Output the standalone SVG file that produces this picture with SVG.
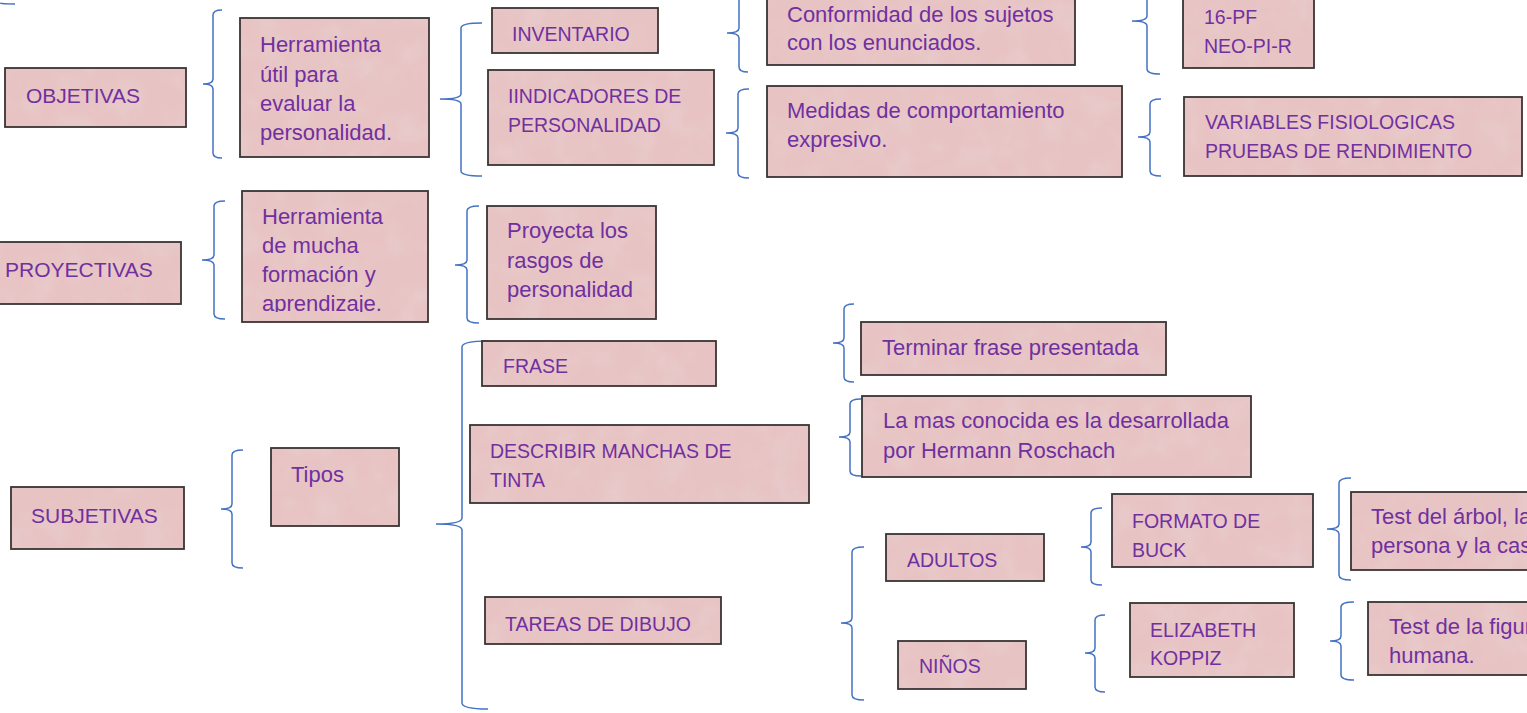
<svg xmlns="http://www.w3.org/2000/svg" width="1527" height="713" viewBox="0 0 1527 713">
<style>
.box{fill:#E8C3C3;filter:url(#mottle)}
.frame{fill:none;stroke:#3a3434;stroke-width:1.8}
.t{font-family:"Liberation Sans",Arial,sans-serif;font-size:22px;fill:#7030A0}
.c{font-size:19.5px}
.h{font-size:21px}
.br{fill:none;stroke:#4472C4;stroke-width:1.5}
</style>
<defs>
<filter id="mottle" x="0" y="0" width="100%" height="100%">
<feTurbulence type="fractalNoise" baseFrequency="0.035" numOctaves="3" seed="4" result="noise"/>
<feColorMatrix in="noise" type="matrix" values="0 0 0 0 0.80  0 0 0 0 0.64  0 0 0 0 0.65  1.1 0 0 0 -0.45" result="spots"/>
<feComposite in="spots" in2="SourceGraphic" operator="in" result="s2"/>
<feMerge><feMergeNode in="SourceGraphic"/><feMergeNode in="s2"/></feMerge>
</filter>
<clipPath id="clipH2"><rect x="242" y="191" width="186" height="121"/></clipPath>
</defs>
<rect width="1527" height="713" fill="#ffffff"/>

<g id="connectors">
<path class="br" d="M0,3 Q1,4 15,4"/>
<path class="br" d="M222,10 Q213,10 213,15 L213,79 Q213,84 203,84 Q213,84 213,89 L213,153 Q213,158 222,158"/>
<path class="br" d="M482,23 Q461,23 461,28 L461,94 Q461,99 440,99 Q461,99 461,104 L461,171 Q461,176 482,176"/>
<path class="br" d="M748,-6 Q739,-6 739,-1 L739,28 Q739,33 727,33 Q739,33 739,38 L739,67 Q739,72 748,72"/>
<path class="br" d="M1160,-32 Q1147,-32 1147,-27 L1147,16 Q1147,21 1132,21 Q1147,21 1147,26 L1147,69 Q1147,74 1160,74"/>
<path class="br" d="M749,89 Q738,89 738,94 L738,128 Q738,133 726,133 Q738,133 738,138 L738,173 Q738,178 749,178"/>
<path class="br" d="M1161,99 Q1150,99 1150,104 L1150,132 Q1150,137 1138,137 Q1150,137 1150,142 L1150,171 Q1150,176 1161,176"/>
<path class="br" d="M225,201 Q214,201 214,206 L214,255 Q214,260 202,260 Q214,260 214,265 L214,314 Q214,319 225,319"/>
<path class="br" d="M479,206 Q467,206 467,211 L467,260 Q467,265 455,265 Q467,265 467,270 L467,318 Q467,323 479,323"/>
<path class="br" d="M243,450 Q232,450 232,455 L232,504 Q232,509 221,509 Q232,509 232,514 L232,563 Q232,568 243,568"/>
<path class="br" d="M488,341 Q462,341 462,347 L462,518 Q462,524 436,524 Q462,524 462,530 L462,703 Q462,709 488,709"/>
<path class="br" d="M854,304 Q844,304 844,309 L844,338 Q844,343 833,343 Q844,343 844,348 L844,377 Q844,382 854,382"/>
<path class="br" d="M861,399 Q850,399 850,404 L850,432 Q850,437 839,437 Q850,437 850,442 L850,471 Q850,476 861,476"/>
<path class="br" d="M864,547 Q852,547 852,552 L852,618 Q852,623 841,623 Q852,623 852,628 L852,695 Q852,700 864,700"/>
<path class="br" d="M1102,508 Q1091,508 1091,513 L1091,542 Q1091,547 1081,547 Q1091,547 1091,552 L1091,580 Q1091,585 1102,585"/>
<path class="br" d="M1105,615 Q1095,615 1095,620 L1095,648 Q1095,653 1085,653 Q1095,653 1095,658 L1095,687 Q1095,692 1105,692"/>
<path class="br" d="M1351,478 Q1339,478 1339,483 L1339,524 Q1339,529 1327,529 Q1339,529 1339,534 L1339,575 Q1339,580 1351,580"/>
<path class="br" d="M1354,602 Q1341,602 1341,607 L1341,636 Q1341,641 1330,641 Q1341,641 1341,646 L1341,675 Q1341,680 1354,680"/>
</g>

<g id="objetivas">
<rect class="box" x="5" y="68" width="181" height="59"/><rect class="frame" x="5" y="68" width="181" height="59"/>
<text class="t h" x="26" y="103">OBJETIVAS</text>
</g>
<g id="herramienta-util">
<rect class="box" x="240" y="18" width="189" height="139"/><rect class="frame" x="240" y="18" width="189" height="139"/>
<text class="t" x="260" y="52">Herramienta</text>
<text class="t" x="260" y="82">útil para</text>
<text class="t" x="260" y="111">evaluar la</text>
<text class="t" x="260" y="140">personalidad.</text>
</g>
<g id="inventario">
<rect class="box" x="492" y="8" width="166" height="45"/><rect class="frame" x="492" y="8" width="166" height="45"/>
<text class="t c" x="512" y="41">INVENTARIO</text>
</g>
<g id="indicadores">
<rect class="box" x="488" y="70" width="226" height="95"/><rect class="frame" x="488" y="70" width="226" height="95"/>
<text class="t c" x="508" y="103">IINDICADORES DE</text>
<text class="t c" x="508" y="132">PERSONALIDAD</text>
</g>
<g id="conformidad">
<rect class="box" x="767" y="-10" width="308" height="75"/><rect class="frame" x="767" y="-10" width="308" height="75"/>
<text class="t" x="787" y="22">Conformidad de los sujetos</text>
<text class="t" x="787" y="50">con los enunciados.</text>
</g>
<g id="pf16">
<rect class="box" x="1183" y="-10" width="131" height="78"/><rect class="frame" x="1183" y="-10" width="131" height="78"/>
<text class="t c" x="1204" y="24">16-PF</text>
<text class="t c" x="1204" y="53">NEO-PI-R</text>
</g>
<g id="medidas">
<rect class="box" x="767" y="86" width="355" height="91"/><rect class="frame" x="767" y="86" width="355" height="91"/>
<text class="t" x="787" y="118">Medidas de comportamiento</text>
<text class="t" x="787" y="147">expresivo.</text>
</g>
<g id="variables">
<rect class="box" x="1184" y="97" width="338" height="79"/><rect class="frame" x="1184" y="97" width="338" height="79"/>
<text class="t c" x="1205" y="129">VARIABLES FISIOLOGICAS</text>
<text class="t c" x="1205" y="158">PRUEBAS DE RENDIMIENTO</text>
</g>
<g id="proyectivas">
<rect class="box" x="-2" y="242" width="183" height="62"/><rect class="frame" x="-2" y="242" width="183" height="62"/>
<text class="t h" x="5" y="277">PROYECTIVAS</text>
</g>
<g id="herramienta-mucha">
<rect class="box" x="242" y="191" width="186" height="131"/><rect class="frame" x="242" y="191" width="186" height="131"/>
<g clip-path="url(#clipH2)">
<text class="t" x="262" y="224">Herramienta</text>
<text class="t" x="262" y="253">de mucha</text>
<text class="t" x="262" y="282">formación y</text>
<text class="t" x="262" y="311">aprendizaje.</text>
</g>
</g>
<g id="proyecta">
<rect class="box" x="487" y="206" width="169" height="113"/><rect class="frame" x="487" y="206" width="169" height="113"/>
<text class="t" x="507" y="238">Proyecta los</text>
<text class="t" x="507" y="268">rasgos de</text>
<text class="t" x="507" y="297">personalidad</text>
</g>
<g id="subjetivas">
<rect class="box" x="11" y="487" width="173" height="62"/><rect class="frame" x="11" y="487" width="173" height="62"/>
<text class="t h" x="31" y="523">SUBJETIVAS</text>
</g>
<g id="tipos">
<rect class="box" x="271" y="448" width="128" height="78"/><rect class="frame" x="271" y="448" width="128" height="78"/>
<text class="t" x="291" y="482">Tipos</text>
</g>
<g id="frase">
<rect class="box" x="482" y="341" width="234" height="45"/><rect class="frame" x="482" y="341" width="234" height="45"/>
<text class="t c" x="503" y="373">FRASE</text>
</g>
<g id="describir">
<rect class="box" x="470" y="425" width="339" height="78"/><rect class="frame" x="470" y="425" width="339" height="78"/>
<text class="t c" x="490" y="458">DESCRIBIR MANCHAS DE</text>
<text class="t c" x="490" y="487">TINTA</text>
</g>
<g id="tareas">
<rect class="box" x="485" y="597" width="236" height="47"/><rect class="frame" x="485" y="597" width="236" height="47"/>
<text class="t c" x="505" y="631">TAREAS DE DIBUJO</text>
</g>
<g id="terminar">
<rect class="box" x="861" y="322" width="305" height="53"/><rect class="frame" x="861" y="322" width="305" height="53"/>
<text class="t" x="882" y="355">Terminar frase presentada</text>
</g>
<g id="lamas">
<rect class="box" x="862" y="396" width="389" height="81"/><rect class="frame" x="862" y="396" width="389" height="81"/>
<text class="t" x="883" y="428">La mas conocida es la desarrollada</text>
<text class="t" x="883" y="458">por Hermann Roschach</text>
</g>
<g id="adultos">
<rect class="box" x="886" y="534" width="158" height="47"/><rect class="frame" x="886" y="534" width="158" height="47"/>
<text class="t c" x="907" y="567">ADULTOS</text>
</g>
<g id="ninos">
<rect class="box" x="898" y="641" width="128" height="48"/><rect class="frame" x="898" y="641" width="128" height="48"/>
<text class="t c" x="919" y="673">NIÑOS</text>
</g>
<g id="formato">
<rect class="box" x="1112" y="494" width="201" height="73"/><rect class="frame" x="1112" y="494" width="201" height="73"/>
<text class="t c" x="1132" y="528">FORMATO DE</text>
<text class="t c" x="1132" y="557">BUCK</text>
</g>
<g id="elizabeth">
<rect class="box" x="1130" y="603" width="164" height="74"/><rect class="frame" x="1130" y="603" width="164" height="74"/>
<text class="t c" x="1150" y="637">ELIZABETH</text>
<text class="t c" x="1150" y="665">KOPPIZ</text>
</g>
<g id="test-arbol">
<rect class="box" x="1351" y="492" width="200" height="78"/><rect class="frame" x="1351" y="492" width="200" height="78"/>
<text class="t" x="1371" y="524">Test del árbol, la</text>
<text class="t" x="1371" y="553">persona y la casa</text>
</g>
<g id="test-figura">
<rect class="box" x="1368" y="602" width="200" height="73"/><rect class="frame" x="1368" y="602" width="200" height="73"/>
<text class="t" x="1389" y="634">Test de la figura</text>
<text class="t" x="1389" y="663">humana.</text>
</g>
</svg>
